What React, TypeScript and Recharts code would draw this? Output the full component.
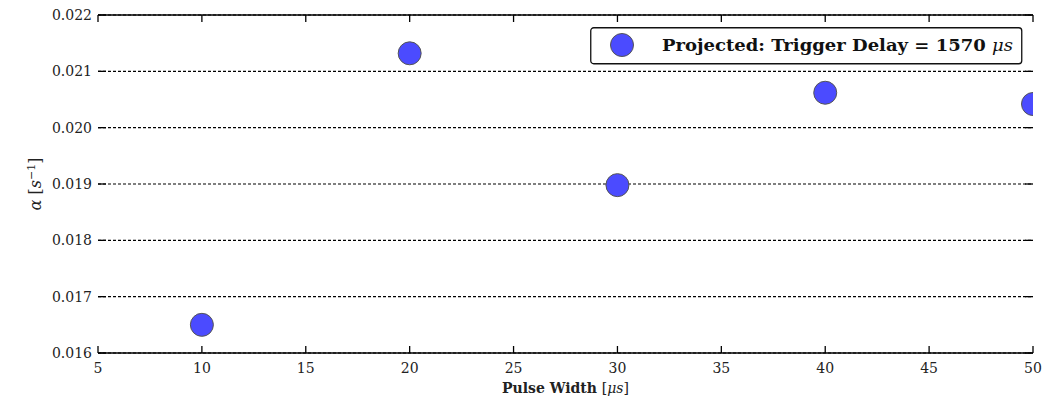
import React from "react";
import {
  ScatterChart,
  Scatter,
  XAxis,
  YAxis,
  CartesianGrid,
  Legend,
} from "recharts";

const pulseWidths = [10, 20, 30, 40, 50];
const alphaValues = [0.0165, 0.02132, 0.01898, 0.02062, 0.02042];
const xTicks = [5, 10, 15, 20, 25, 30, 35, 40, 45, 50];
const yTicks = [0.016, 0.017, 0.018, 0.019, 0.02, 0.021, 0.022];
const seriesName = "Projected: Trigger Delay = 1570";

const data = pulseWidths.map((w, i) => ({ width: w, alpha: alphaValues[i] }));

const FONT = "'DejaVu Serif', 'Liberation Serif', serif";
const TEXT = "#222";
const POINT_FILL = "#4b4bff";
const POINT_STROKE = "#555";

// plot frame edges (margin + axis sizes), used for the mirrored tick marks
const PLOT_TOP = 15;
const PLOT_RIGHT = 1033;

const BottomTick = ({ x, y, payload }: any) => (
  <g>
    <line x1={x} x2={x} y1={y} y2={y - 7} stroke="#000" strokeWidth={1.3} />
    <line x1={x} x2={x} y1={PLOT_TOP} y2={PLOT_TOP + 7} stroke="#000" strokeWidth={1.3} />
    <text x={x} y={y + 20} textAnchor="middle" fontFamily={FONT} fontSize={14} fill={TEXT}>
      {payload.value}
    </text>
  </g>
);

const LeftTick = ({ x, y, payload }: any) => (
  <g>
    <line x1={x} x2={x + 8} y1={y} y2={y} stroke="#000" strokeWidth={1.3} />
    <line x1={PLOT_RIGHT - 8} x2={PLOT_RIGHT} y1={y} y2={y} stroke="#000" strokeWidth={1.3} />
    <text
      x={x - 6}
      y={y}
      dy={5}
      textAnchor="end"
      fontFamily={FONT}
      fontSize={14}
      fill={TEXT}
    >
      {Number(payload.value).toFixed(3)}
    </text>
  </g>
);

const Dot = (props: any) => (
  <circle
    cx={props.cx}
    cy={props.cy}
    r={11.5}
    fill={POINT_FILL}
    stroke={POINT_STROKE}
    strokeWidth={1}
  />
);

const LegendBox = () => (
  <svg width={433} height={38}>
    <rect x={0.75} y={0.75} width={431} height={36} rx={3} fill="#fff" stroke="#111" strokeWidth={1.3} />
    <circle cx={32} cy={18} r={11.5} fill={POINT_FILL} stroke={POINT_STROKE} strokeWidth={1} />
    <text
      x={72}
      y={24}
      fontFamily={FONT}
      fontSize={17.5}
      fontWeight="bold"
      fill="#111"
      textLength={351}
      lengthAdjust="spacingAndGlyphs"
    >
      {seriesName}{" "}
      <tspan fontStyle="italic" fontWeight="normal">μs</tspan>
    </text>
  </svg>
);

const YLabel = ({ viewBox }: any) => {
  const cx = viewBox.x + 41;
  const cy = viewBox.y + viewBox.height / 2;
  return (
    <text
      x={cx}
      y={cy}
      transform={`rotate(-90 ${cx} ${cy})`}
      textAnchor="middle"
      fontFamily={FONT}
      fontSize={16}
      fill={TEXT}
    >
      <tspan fontStyle="italic">α</tspan> [<tspan fontStyle="italic">s</tspan>
      <tspan dy={-6} fontSize={11}>−1</tspan>
      <tspan dy={6}>]</tspan>
    </text>
  );
};

const XLabel = ({ viewBox }: any) => (
  <text
    x={viewBox.x + viewBox.width / 2}
    y={viewBox.y + 40}
    textAnchor="middle"
    fontFamily={FONT}
    fontSize={14}
    fill={TEXT}
  >
    <tspan fontWeight="bold">Pulse Width </tspan>[<tspan fontStyle="italic">μs</tspan>]
  </text>
);

export default function App() {
  return (
    <div style={{ position: "absolute", left: 0, top: 0, background: "#fff" }}>
      <ScatterChart
        width={1056}
        height={404}
        margin={{ top: 14, right: 23, left: 0, bottom: 0 }}
      >
        <CartesianGrid
          horizontal
          vertical={false}
          yAxisId="left"
          stroke="#000"
          strokeWidth={1.2}
          strokeDasharray="3 2"
        />
        <XAxis
          xAxisId="bottom"
          type="number"
          dataKey="width"
          domain={[5, 50]}
          ticks={xTicks}
          allowDataOverflow
          height={51}
          tickSize={0}
          tickMargin={0}
          tickLine={false}
          axisLine={{ stroke: "#000", strokeWidth: 1.5 }}
          tick={<BottomTick />}
          interval={0}
          label={{ content: XLabel }}
        />
        <XAxis
          xAxisId="top"
          orientation="top"
          type="number"
          domain={[5, 50]}
          ticks={xTicks}
          height={1}
          tickLine={false}
          tick={false}
          axisLine={{ stroke: "#000", strokeWidth: 1.5 }}
        />
        <YAxis
          yAxisId="left"
          type="number"
          dataKey="alpha"
          domain={[0.016, 0.022]}
          ticks={yTicks}
          allowDataOverflow
          width={98}
          tickSize={0}
          tickMargin={0}
          tickLine={false}
          axisLine={false}
          tick={<LeftTick />}
          interval={0}
          label={{ content: YLabel }}
        />
        <Legend
          layout="horizontal"
          verticalAlign="middle"
          content={<LegendBox />}
          wrapperStyle={{ position: "absolute", left: 590, top: 27, width: 433, height: 38 }}
        />
        <Scatter
          name={seriesName}
          data={data}
          xAxisId="bottom"
          yAxisId="left"
          shape={<Dot />}
          isAnimationActive={false}
        />
      </ScatterChart>
    </div>
  );
}
